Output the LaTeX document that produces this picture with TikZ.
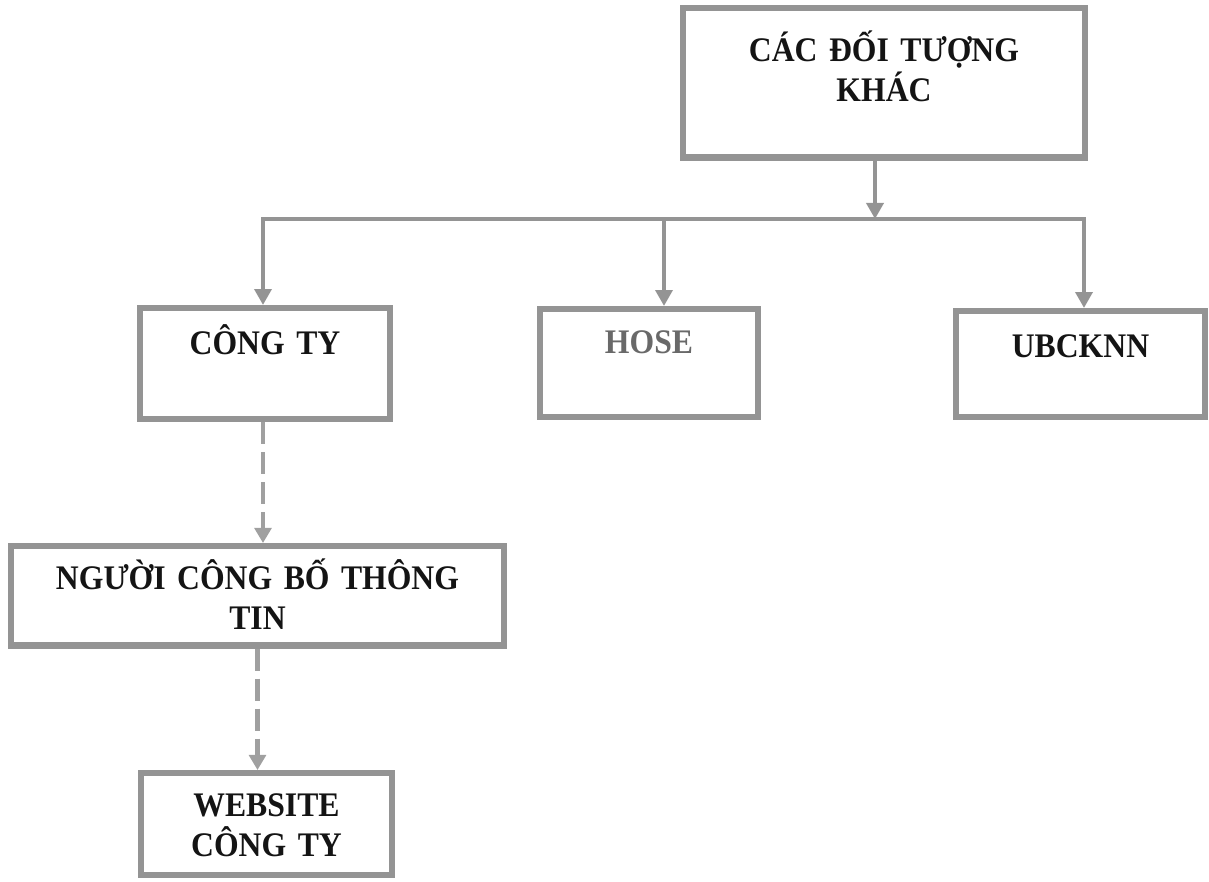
\documentclass[tikz,border=0pt]{standalone}
\usepackage{fontspec}
\setmainfont[FakeStretch=0.92]{Liberation Serif}
\usetikzlibrary{arrows.meta}

\definecolor{boxgray}{RGB}{148,148,148}
\definecolor{dashgray}{RGB}{160,160,160}
\definecolor{inkgray}{RGB}{20,20,20}
\definecolor{hosegray}{RGB}{105,105,105}

\tikzset{
  box/.style={draw=boxgray, line width=0.16cm, fill=white, inner sep=0pt,
    anchor=north, align=center, text=inkgray,
    font=\fontsize{24.5}{28.5}\selectfont\bfseries},
  link/.style={draw=boxgray, line width=0.12cm,
    -{Triangle[length=0.4cm,width=0.42cm]}},
  dashlink/.style={draw=dashgray, line width=0.12cm, dash pattern=on 0.55cm off 0.2cm,
    -{Triangle[length=0.38cm,width=0.42cm]}}
}

\begin{document}
\begin{tikzpicture}[x=0.025cm,y=-0.025cm]
\useasboundingbox (0,0) rectangle (1209,881);
\clip (0,0) rectangle (1209,881);

\node[box, text width=10.05cm, text height=1.34cm, text depth=2.39cm] (top) at (884,5) {CÁC ĐỐI TƯỢNG\\KHÁC};
\node[box, text width=6.25cm, text height=1.16cm, text depth=1.61cm] (cty) at (265,305) {CÔNG TY};
\node[box, text width=5.45cm, text height=1.11cm, text depth=1.59cm, text=hosegray] (hose) at (649,306) {HOSE};
\node[box, text width=6.23cm, text height=1.16cm, text depth=1.49cm] (ubck) at (1080.5,308) {UBCKNN};
\node[box, text width=12.33cm, text height=1.09cm, text depth=1.39cm] (cbtt) at (257.5,543) {NGƯỜI CÔNG BỐ THÔNG\\TIN};
\node[box, text width=6.28cm, text height=1.09cm, text depth=1.46cm] (web) at (266.5,770) {WEBSITE\\CÔNG TY};

% bus line under the top box
\coordinate (busM) at (875,219);
\coordinate (busL) at (263,219);
\coordinate (busH) at (664,219);
\coordinate (busR) at (1084,219);

\draw[link] (top.south -| busM) -- (busM);
\draw[link] (busM) -| (cty.north -| busL);
\draw[link] (busM) -| (ubck.north -| busR);
\draw[link] (busH) -- (hose.north -| busH);

\draw[dashlink] (cty.south -| busL) -- (cbtt.north -| busL);
\draw[dashlink] (cbtt.south) -- (cbtt.south |- web.north);
\end{tikzpicture}
\end{document}
